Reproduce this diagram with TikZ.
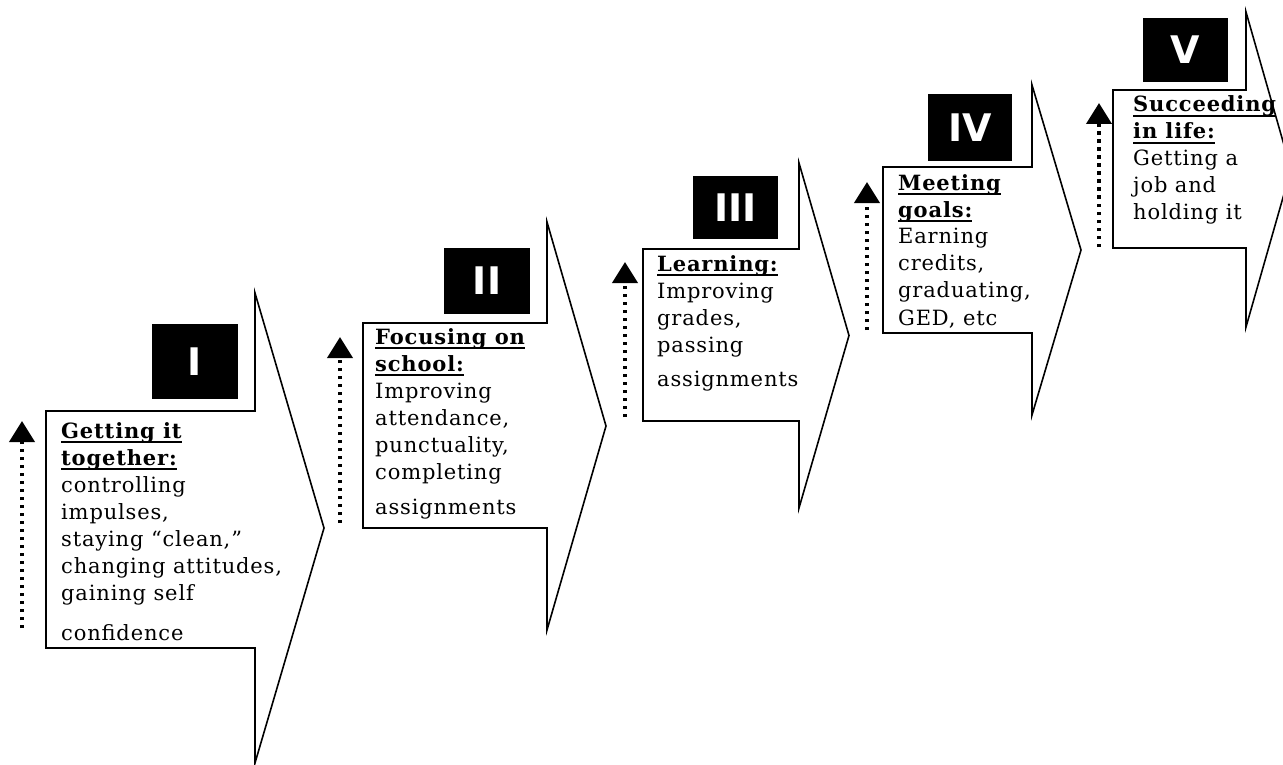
\documentclass[tikz,border=0pt]{standalone}
\usepackage{fontspec}
\setmainfont{DejaVu Serif}[LetterSpace=4,BoldFeatures={LetterSpace=4}]
\newfontfamily\numfont{DejaVu Sans}
\usetikzlibrary{arrows.meta}
\newcommand\hdl[1]{\leavevmode\setbox0\hbox{\bfseries #1}\rlap{\rule[-5pt]{\wd0}{1.6pt}}\box0}
\tikzset{
  stage/.style={draw=black, fill=white, line width=1.6pt, line join=miter},
  sq/.style={fill=black, text=white, inner sep=0pt, font=\numfont\bfseries\fontsize{38}{38}\selectfont},
  txt/.style={anchor=base west, inner sep=0pt, font=\fontsize{21}{27}\selectfont},
  uparrow/.style={line width=4pt, dash pattern=on 3.5pt off 4.5pt, -{Triangle[width=25pt,length=21pt]}}
}
\begin{document}
\begin{tikzpicture}[x=1pt,y=-1pt]
\useasboundingbox (0,0) rectangle (1283,765);
% stage shapes
\draw[stage] (46,411) -- (255,411) -- (255,293) -- (324,528) -- (255,763) -- (255,648) -- (46,648) -- cycle;
\draw[stage] (363,323) -- (547,323) -- (547,222) -- (606,426) -- (547,630) -- (547,528) -- (363,528) -- cycle;
\draw[stage] (643,249) -- (799,249) -- (799,163) -- (849,335.5) -- (799,508) -- (799,421) -- (643,421) -- cycle;
\draw[stage] (883,167) -- (1032,167) -- (1032,85) -- (1081,250) -- (1032,415) -- (1032,333) -- (883,333) -- cycle;
\draw[stage] (1113,90) -- (1246,90) -- (1246,12) -- (1291,169.5) -- (1246,327) -- (1246,248) -- (1113,248) -- cycle;
% numeral squares
\node[sq, minimum width=86pt, minimum height=75pt] (sI) at (195,361.5) {I};
\node[sq, minimum width=86pt, minimum height=66pt] (sII) at (487,281) {II};
\node[sq, minimum width=85pt, minimum height=63pt] (sIII) at (735.5,207.5) {III};
\node[sq, minimum width=84pt, minimum height=67pt] (sIV) at (970,127.5) {IV};
\node[sq, minimum width=85pt, minimum height=64pt] (sV) at (1185.5,50) {V};
% texts
\node[txt] (tI) at (61,438) {\parbox[t]{300pt}{\raggedright\hdl{Getting it}\\\hdl{together:}\\controlling\\impulses,\\staying “clean,”\\changing attitudes,\\gaining self\\[13pt]confidence}};
\node[txt] (tII) at (375,344) {\parbox[t]{300pt}{\raggedright\hdl{Focusing on}\\\hdl{school:}\\Improving\\attendance,\\punctuality,\\completing\\[8pt]assignments}};
\node[txt] (tIII) at (657,271) {\parbox[t]{300pt}{\raggedright\hdl{Learning:}\\Improving\\grades,\\passing\\[7pt]assignments}};
\node[txt] (tIV) at (898,190) {\parbox[t]{300pt}{\raggedright\hdl{Meeting}\\\hdl{goals:}\\Earning\\credits,\\graduating,\\GED, etc}};
\node[txt] (tV) at (1133,112) {\parbox[t]{300pt}{\raggedright\hdl{Succeeding}\\\hdl{in life:}\\Getting a\\job and\\holding it}};
% dotted arrows
\coordinate (aIs) at (22,628);   \coordinate (aIe) at (22,421);
\coordinate (aIIs) at (340,523); \coordinate (aIIe) at (340,337);
\coordinate (aIIIs) at (625,417); \coordinate (aIIIe) at (625,262);
\coordinate (aIVs) at (867,330); \coordinate (aIVe) at (867,182);
\coordinate (aVs) at (1099,247); \coordinate (aVe) at (1099,103);
\draw[uparrow] (aIs) -- (aIe);
\draw[uparrow] (aIIs) -- (aIIe);
\draw[uparrow] (aIIIs) -- (aIIIe);
\draw[uparrow] (aIVs) -- (aIVe);
\draw[uparrow] (aVs) -- (aVe);
\end{tikzpicture}
\end{document}
